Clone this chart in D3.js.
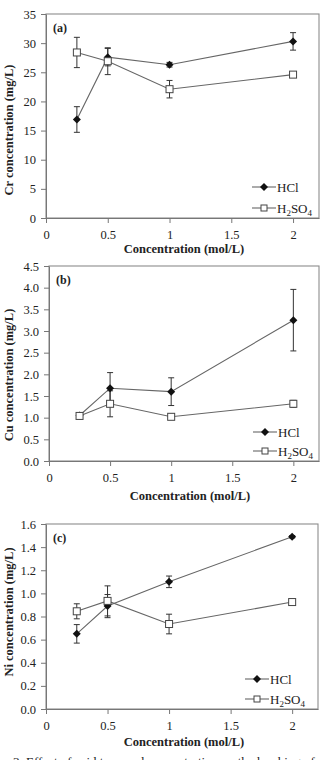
<!DOCTYPE html>
<html>
<head>
<meta charset="utf-8">
<script src="https://cdn.jsdelivr.net/npm/d3@7"></script>
<style>
  body { margin: 0; background: #fff; }
  svg text { font-family: "Liberation Serif", "Times New Roman", serif; fill: #222; }
</style>
</head>
<body>
<div id="chart"></div>
<script>
// acid concentration (mol/L)
const concentrations = [0.25, 0.5, 1, 2];
const seriesNames = ["HCl", "H2SO4"];

// (a) Cr
const crHCl = [16.9, 27.6, 26.3, 30.3];
const crHClErr = [2.2, 1.5, 0.4, 1.5];
const crH2SO4 = [28.4, 26.9, 22.1, 24.6];
const crH2SO4Err = [2.6, 2.3, 1.5, 0.3];

// (b) Cu
const cuHCl = [1.05, 1.68, 1.60, 3.25];
const cuHClErr = [0.03, 0.36, 0.32, 0.71];
const cuH2SO4 = [1.04, 1.32, 1.02, 1.32];
const cuH2SO4Err = [0.03, 0.30, 0.06, 0.08];

// (c) Ni
const niHCl = [0.65, 0.89, 1.10, 1.49];
const niHClErr = [0.08, 0.10, 0.05, 0.01];
const niH2SO4 = [0.845, 0.935, 0.735, 0.925];
const niH2SO4Err = [0.065, 0.13, 0.085, 0.01];

const xTicks = [0, 0.5, 1, 1.5, 2];
const crTicks = [0, 5, 10, 15, 20, 25, 30, 35];
const cuTicks = [0, 0.5, 1, 1.5, 2, 2.5, 3, 3.5, 4, 4.5];
const niTicks = [0, 0.2, 0.4, 0.6, 0.8, 1.0, 1.2, 1.4, 1.6];

const svg = d3.select('#chart')
  .append('svg')
    .attr('width', 323)
    .attr('height', 760);

const panels = [
  { tag: '(a)', title: 'Cr concentration (mg/L)', hcl: crHCl, hclErr: crHClErr, h2: crH2SO4, h2Err: crH2SO4Err,
    yTicks: crTicks, fmt: d3.format('d'),
    box: [46, 319, 14, 218], xTitleY: 253, xTitleX: 184, yTitleY: 130, legendX: 252, legendY: [187, 208] },
  { tag: '(b)', title: 'Cu concentration (mg/L)', hcl: cuHCl, hclErr: cuHClErr, h2: cuH2SO4, h2Err: cuH2SO4Err,
    yTicks: cuTicks, fmt: d3.format('.1f'),
    box: [49, 319, 266, 461], xTitleY: 500, xTitleX: 190, yTitleY: 375, legendX: 253, legendY: [432, 451] },
  { tag: '(c)', title: 'Ni concentration (mg/L)', hcl: niHCl, hclErr: niHClErr, h2: niH2SO4, h2Err: niH2SO4Err,
    yTicks: niTicks, fmt: d3.format('.1f'),
    box: [46, 318, 524, 709], xTitleY: 746, xTitleX: 184, yTitleY: 612, legendX: 245, legendY: [679, 699] }
];

const diamond = d3.symbol(d3.symbolSquare, 32);

function drawMarker(g, type, x, y, side) {
  if (type === 0) {
    g.append('path')
      .attr('d', diamond())
      .attr('transform', `translate(${x},${y}) rotate(45)`)
      .attr('fill', '#111');
  } else {
    g.append('rect')
      .attr('x', x - side / 2).attr('y', y - side / 2)
      .attr('width', side).attr('height', side)
      .attr('fill', '#fff')
      .attr('stroke', '#444')
      .attr('stroke-width', 1);
  }
}

panels.forEach((p) => {
  const [left, right, top, bottom] = p.box;
  const x = d3.scaleLinear().domain([0, 2.21]).range([left, right]);
  const y = d3.scaleLinear().domain([0, d3.max(p.yTicks)]).range([bottom, top]);
  const g = svg.append('g');

  g.append('rect')
    .attr('x', left).attr('y', top)
    .attr('width', right - left).attr('height', bottom - top)
    .attr('fill', 'none')
    .attr('stroke', '#8c8c8c')
    .attr('stroke-width', 1.1);

  const yAxis = g.append('g')
    .attr('transform', `translate(${left},0)`)
    .call(d3.axisLeft(y).tickValues(p.yTicks).tickFormat(p.fmt).tickSizeInner(5).tickSizeOuter(0).tickPadding(5));
  const xAxis = g.append('g')
    .attr('transform', `translate(0,${bottom})`)
    .call(d3.axisBottom(x).tickValues(xTicks).tickFormat(d3.format('')).tickSizeInner(5).tickSizeOuter(0).tickPadding(7));
  [yAxis, xAxis].forEach((a) => {
    a.select('.domain').attr('stroke', '#777');
    a.selectAll('.tick line').attr('stroke', '#777');
    a.selectAll('.tick text')
      .attr('font-size', 12.5)
      .attr('font-family', '"Liberation Serif", serif')
      .attr('fill', '#222');
  });

  g.append('text')
    .attr('x', left + 7).attr('y', top + 18)
    .attr('font-size', 12).attr('font-weight', 'bold')
    .text(p.tag);

  g.append('text')
    .attr('transform', `translate(13,${p.yTitleY}) rotate(-90)`)
    .attr('text-anchor', 'middle')
    .attr('font-size', 12.5).attr('font-weight', 'bold')
    .text(p.title);

  g.append('text')
    .attr('x', p.xTitleX).attr('y', p.xTitleY)
    .attr('text-anchor', 'middle')
    .attr('font-size', 12.5).attr('font-weight', 'bold')
    .text('Concentration (mol/L)');

  const line = d3.line().x((d) => x(d[0])).y((d) => y(d[1]));
  const series = [[p.hcl, p.hclErr], [p.h2, p.h2Err]];

  series.forEach(([vals, errs]) => {
    g.append('path')
      .attr('d', line(concentrations.map((c, i) => [c, vals[i]])))
      .attr('fill', 'none')
      .attr('stroke', '#666')
      .attr('stroke-width', 1.1);
  });

  series.forEach(([vals, errs]) => {
    concentrations.forEach((c, i) => {
      const cx = x(c);
      const y1 = y(vals[i] + errs[i]);
      const y2 = y(vals[i] - errs[i]);
      g.append('line').attr('x1', cx).attr('x2', cx).attr('y1', y1).attr('y2', y2)
        .attr('stroke', '#333').attr('stroke-width', 1);
      [y1, y2].forEach((yy) => {
        g.append('line').attr('x1', cx - 3).attr('x2', cx + 3).attr('y1', yy).attr('y2', yy)
          .attr('stroke', '#333').attr('stroke-width', 1);
      });
    });
  });

  series.forEach(([vals], s) => {
    concentrations.forEach((c, i) => drawMarker(g, s, x(c), y(vals[i]), 7));
  });

  // legend
  seriesNames.forEach((name, s) => {
    const ly = p.legendY[s];
    g.append('line')
      .attr('x1', p.legendX).attr('x2', p.legendX + 24)
      .attr('y1', ly).attr('y2', ly)
      .attr('stroke', '#666').attr('stroke-width', 1.1);
    drawMarker(g, s, p.legendX + 12, ly, 6);
    const t = g.append('text')
      .attr('x', p.legendX + 25).attr('y', ly + 4.5)
      .attr('font-size', 13);
    if (s === 0) {
      t.text(name);
    } else {
      t.append('tspan').text('H');
      t.append('tspan').attr('font-size', 9).attr('dy', 3).text('2');
      t.append('tspan').attr('dy', -3).text('SO');
      t.append('tspan').attr('font-size', 9).attr('dy', 3).text('4');
    }
  });
});

// figure caption, cropped at the bottom edge as in the source image
svg.append('text')
  .attr('x', 13).attr('y', 766)
  .attr('font-size', 13)
  .attr('fill', '#555')
  .text('3. Effect of acid type and concentration on the leaching of');
</script>
</body>
</html>
